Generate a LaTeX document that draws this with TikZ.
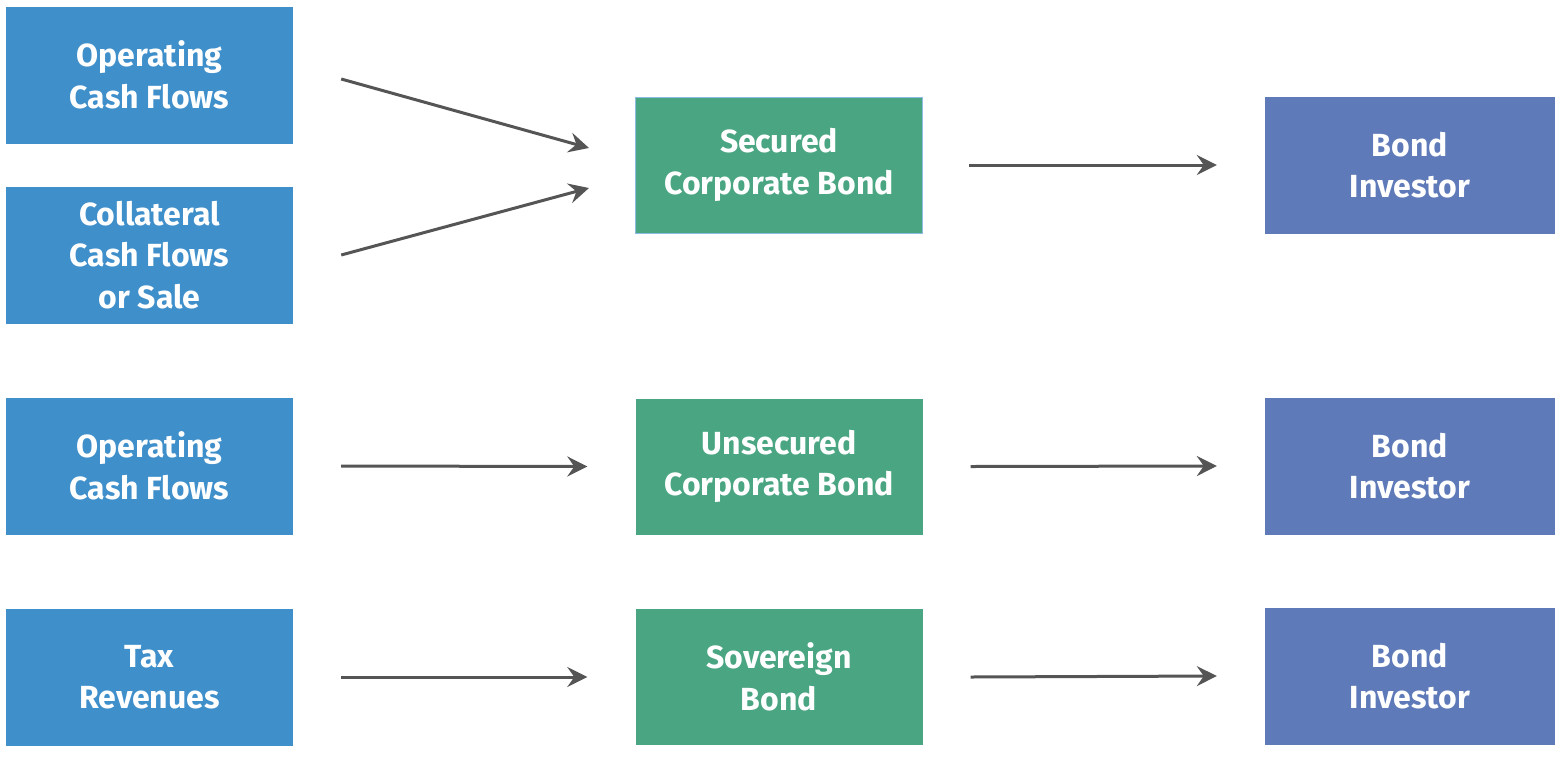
\documentclass[tikz,border=0pt]{standalone}
\usepackage{fontspec}
\setmainfont{Fira Sans}
\usepackage{tikz}
\usetikzlibrary{arrows.meta,calc}
\definecolor{srcblue}{HTML}{3F8FCB}
\definecolor{bondgreen}{HTML}{4AA582}
\definecolor{invpurple}{HTML}{5E7AB8}
\definecolor{arrgray}{HTML}{555555}
\tikzset{
	box/.style={rectangle, inner sep=0pt, text=white, align=center,
		font=\fontsize{32}{41.5}\selectfont\bfseries},
	srcbox/.style={box, fill=srcblue, minimum width=287pt, minimum height=137pt},
	bondbox/.style={box, fill=bondgreen, minimum width=287pt, minimum height=136pt},
	invbox/.style={box, fill=invpurple, minimum width=290pt, minimum height=137pt},
	flow/.style={draw=arrgray, line width=3pt, -{Stealth[length=20pt,width=20pt,inset=7pt]}}
}

\begin{document}
\begin{tikzpicture}[x=1pt, y=-1pt]
		%%%%% START %%%%%
		\useasboundingbox (0, 0) rectangle (1566, 756);
		
		\node[srcbox] (opcf) at (149.5, 75) {Operating\\Cash Flows};
		\node[srcbox] (collat) at (149.5, 255) {Collateral\\Cash Flows\\or Sale};
		\node[srcbox] (opcfb) at (149.5, 466) {Operating\\Cash Flows};
		\node[srcbox] (tax) at (149.5, 677) {Tax\\Revenues};
		
		\node[bondbox, draw=srcblue!60, line width=1pt] (secured) at (779, 165) {Secured\\Corporate Bond};
		\node[bondbox] (unsecured) at (779, 466.5) {Unsecured\\Corporate Bond};
		\node[bondbox] (sovereign) at (779, 677) {Sovereign\\Bond};
		
		\node[invbox] (invA) at (1410, 165) {Bond\\Investor};
		\node[invbox] (invB) at (1410, 466) {Bond\\Investor};
		\node[invbox] (invC) at (1410, 676) {Bond\\Investor};
		
		\draw[flow] ($(opcf.east)+(48, 4)$) -- ($(secured.west)+(-46, -17)$);
		\draw[flow] ($(collat.east)+(48, 0)$) -- ($(secured.west)+(-46, 23)$);
		\draw[flow] ([xshift=48]opcfb.east) -- ([xshift=-48]unsecured.west);
		\draw[flow] ([xshift=48]tax.east) -- ([xshift=-48]sovereign.west);
		
		\draw[flow] ([xshift=46]secured.east) -- ([xshift=-48]invA.west);
		\draw[flow] ([xshift=48]unsecured.east) -- ([xshift=-48]invB.west);
		\draw[flow] ([xshift=48]sovereign.east) -- ([xshift=-48]invC.west);
		%%%%% END %%%%%
	\end{tikzpicture}
\end{document}
